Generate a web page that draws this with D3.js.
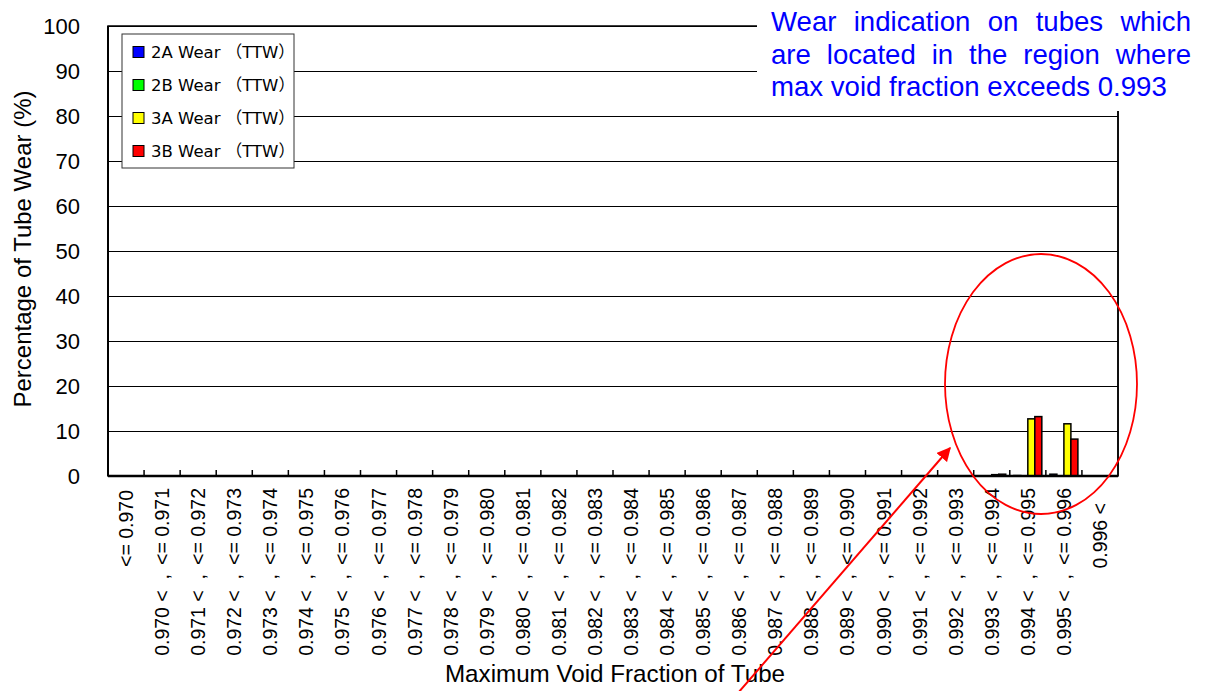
<!DOCTYPE html>
<html><head><meta charset="utf-8">
<script src="https://cdn.jsdelivr.net/npm/d3@7"></script>
<style>
html,body{margin:0;padding:0;background:#fff;}
svg{display:block;}
text{font-family:"Liberation Sans",Arial,"Noto Sans CJK JP",sans-serif;}
</style></head>
<body>
<svg id="chart" width="1206" height="691"></svg>
<script>
const categories = [
  "<= 0.970",
  "0.970 <, <= 0.971", "0.971 <, <= 0.972", "0.972 <, <= 0.973", "0.973 <, <= 0.974",
  "0.974 <, <= 0.975", "0.975 <, <= 0.976", "0.976 <, <= 0.977", "0.977 <, <= 0.978",
  "0.978 <, <= 0.979", "0.979 <, <= 0.980", "0.980 <, <= 0.981", "0.981 <, <= 0.982",
  "0.982 <, <= 0.983", "0.983 <, <= 0.984", "0.984 <, <= 0.985", "0.985 <, <= 0.986",
  "0.986 <, <= 0.987", "0.987 <, <= 0.988", "0.988 <, <= 0.989", "0.989 <, <= 0.990",
  "0.990 <, <= 0.991", "0.991 <, <= 0.992", "0.992 <, <= 0.993", "0.993 <, <= 0.994",
  "0.994 <, <= 0.995", "0.995 <, <= 0.996",
  "0.996 <"
];
const seriesNames = ["2A Wear （TTW）", "2B Wear （TTW）", "3A Wear （TTW）", "3B Wear （TTW）"];
const seriesColors = ["#0000ff", "#00ff00", "#ffff00", "#ff0000"];
const wear2A = [0,0,0,0,0,0,0,0,0,0,0,0,0,0,0,0,0,0,0,0,0,0,0,0,0,0.1,0.4,0];
const wear2B = [0,0,0,0,0,0,0,0,0,0,0,0,0,0,0,0,0,0,0,0,0,0,0,0,0,0,0,0];
const wear3A = [0,0,0,0,0,0,0,0,0,0,0,0,0,0,0,0,0,0,0,0,0,0,0,0,0.3,12.7,11.6,0];
const wear3B = [0,0,0,0,0,0,0,0,0,0,0,0,0,0,0,0,0,0,0,0,0,0,0,0,0.4,13.2,8.2,0];
const yTicks = [0,10,20,30,40,50,60,70,80,90,100];
const xTitle = "Maximum Void Fraction of Tube";
const yTitle = "Percentage of Tube Wear (%)";
const noteLines = ["Wear indication on tubes which", "are located in the region where", "max void fraction exceeds 0.993"];

const seriesData = [wear2A, wear2B, wear3A, wear3B];
const svg = d3.select("#chart");
const L = 108, R = 1118, T = 26, B = 476;

const x = d3.scaleBand().domain(categories).range([L, R]).padding(0);
const bw = x.bandwidth();
const x1 = d3.scaleBand().domain(seriesNames).range([bw/2 - 14, bw/2 + 14]).padding(0);
const y = d3.scaleLinear().domain([0, 100]).range([B, T]);

// gridlines
svg.append("g").selectAll("line").data(yTicks.filter(d => d > 0)).join("line")
  .attr("x1", L).attr("x2", R).attr("y1", d => y(d)).attr("y2", d => y(d))
  .attr("stroke", "#000").attr("stroke-width", 1).attr("shape-rendering", "crispEdges");

// bars
const bars = [];
seriesData.forEach((arr, si) => arr.forEach((v, ci) => { if (v > 0) bars.push({s: seriesNames[si], c: categories[ci], v, color: seriesColors[si]}); }));
svg.append("g").selectAll("rect").data(bars).join("rect")
  .attr("x", d => x(d.c) + x1(d.s)).attr("width", x1.bandwidth())
  .attr("y", d => y(d.v)).attr("height", d => B - y(d.v))
  .attr("fill", d => d.color).attr("stroke", "#000").attr("stroke-width", 1.5);

// frame
svg.append("rect").attr("x", L).attr("y", T).attr("width", R - L).attr("height", B - T)
  .attr("fill", "none").attr("stroke", "#000").attr("stroke-width", 1.5);
svg.append("line").attr("x1", L).attr("x2", R).attr("y1", B).attr("y2", B).attr("stroke", "#000").attr("stroke-width", 2.5);
svg.append("line").attr("x1", L).attr("x2", L).attr("y1", T).attr("y2", B).attr("stroke", "#000").attr("stroke-width", 2);

// category ticks (inside, upward)
svg.append("g").selectAll("line").data(categories.slice(1)).join("line")
  .attr("x1", d => x(d)).attr("x2", d => x(d)).attr("y1", B).attr("y2", B - 6)
  .attr("stroke", "#000").attr("stroke-width", 1.5);

// y axis labels
const yAxis = d3.axisLeft(y).tickValues(yTicks).tickSize(0).tickPadding(28);
const yg = svg.append("g").attr("transform", `translate(${L},0)`).call(yAxis);
yg.select(".domain").remove();
yg.selectAll("text").attr("font-size", 22).attr("fill", "#000")
  .style("font-family", '"Liberation Sans",Arial,sans-serif');

// x category labels
const lg = svg.append("g");
categories.forEach((c, i) => {
  const cx = x(c) + bw / 2;
  const parts = c.split(", ");
  const put = (txt, yy) => lg.append("text")
    .attr("transform", `translate(${cx + 7},${yy}) rotate(-90)`)
    .attr("text-anchor", "end").attr("font-size", 19.5).attr("fill", "#000")
    .style("white-space", "pre").text(txt);
  if (parts.length === 2) {
    put(parts[1], 488);
    put(parts[0] + "  ,", 574);
  } else if (c.startsWith("<=")) {
    put(c, 490);
  } else {
    put(c, 503);
  }
});

// axis titles
svg.append("text").attr("x", 615).attr("y", 682).attr("text-anchor", "middle")
  .attr("font-size", 24.2).attr("fill", "#000").text(xTitle);
svg.append("text").attr("transform", "translate(31,249) rotate(-90)").attr("text-anchor", "middle")
  .attr("font-size", 24).attr("fill", "#000").text(yTitle);

// legend
const leg = svg.append("g");
leg.append("rect").attr("x", 122).attr("y", 34).attr("width", 172).attr("height", 134)
  .attr("fill", "#fff").attr("stroke", "#333").attr("stroke-width", 1);
seriesNames.forEach((n, i) => {
  const cy = 52 + i * 33;
  leg.append("rect").attr("x", 133).attr("y", cy - 5.5).attr("width", 11).attr("height", 11)
    .attr("fill", seriesColors[i]).attr("stroke", "#000").attr("stroke-width", 1);
  leg.append("text").attr("x", 151).attr("y", cy + 6).attr("font-size", 16.5).attr("fill", "#000")
    .style("font-family", '"DejaVu Sans","Noto Sans CJK JP",sans-serif').text(n);
});

// annotation box covering top-right
svg.append("rect").attr("x", 757).attr("y", 0).attr("width", 449).attr("height", 111).attr("fill", "#fff");
svg.append("line").attr("x1", R).attr("x2", R).attr("y1", 111).attr("y2", B).attr("stroke", "#000").attr("stroke-width", 1.5);
const nx0 = 771, nx1 = 1191, fs = 27.6;
noteLines.forEach((line, li) => {
  const by = 31 + li * 32.5;
  const words = line.split(" ");
  const g = svg.append("g");
  const ts = words.map(w => g.append("text").attr("y", by).attr("font-size", fs).attr("fill", "#0000ff").text(w));
  const widths = ts.map(t => t.node().getComputedTextLength());
  const total = d3.sum(widths);
  let gap;
  if (li < noteLines.length - 1) gap = (nx1 - nx0 - total) / (words.length - 1);
  else gap = fs * 0.278;
  let cur = nx0;
  ts.forEach((t, k) => { t.attr("x", cur); cur += widths[k] + gap; });
});

// red ellipse and arrow
svg.append("ellipse").attr("cx", 1041).attr("cy", 384).attr("rx", 96).attr("ry", 130)
  .attr("fill", "none").attr("stroke", "#ff0000").attr("stroke-width", 1.8);
const defs = svg.append("defs");
defs.append("marker").attr("id", "ah").attr("viewBox", "0 0 10 10").attr("refX", 9).attr("refY", 5)
  .attr("markerWidth", 7).attr("markerHeight", 7).attr("orient", "auto")
  .append("path").attr("d", "M0,0 L10,5 L0,10 z").attr("fill", "#ff0000");
svg.append("line").attr("x1", 738).attr("y1", 693).attr("x2", 950).attr("y2", 448)
  .attr("stroke", "#ff0000").attr("stroke-width", 2).attr("marker-end", "url(#ah)");
</script>
</body></html>
